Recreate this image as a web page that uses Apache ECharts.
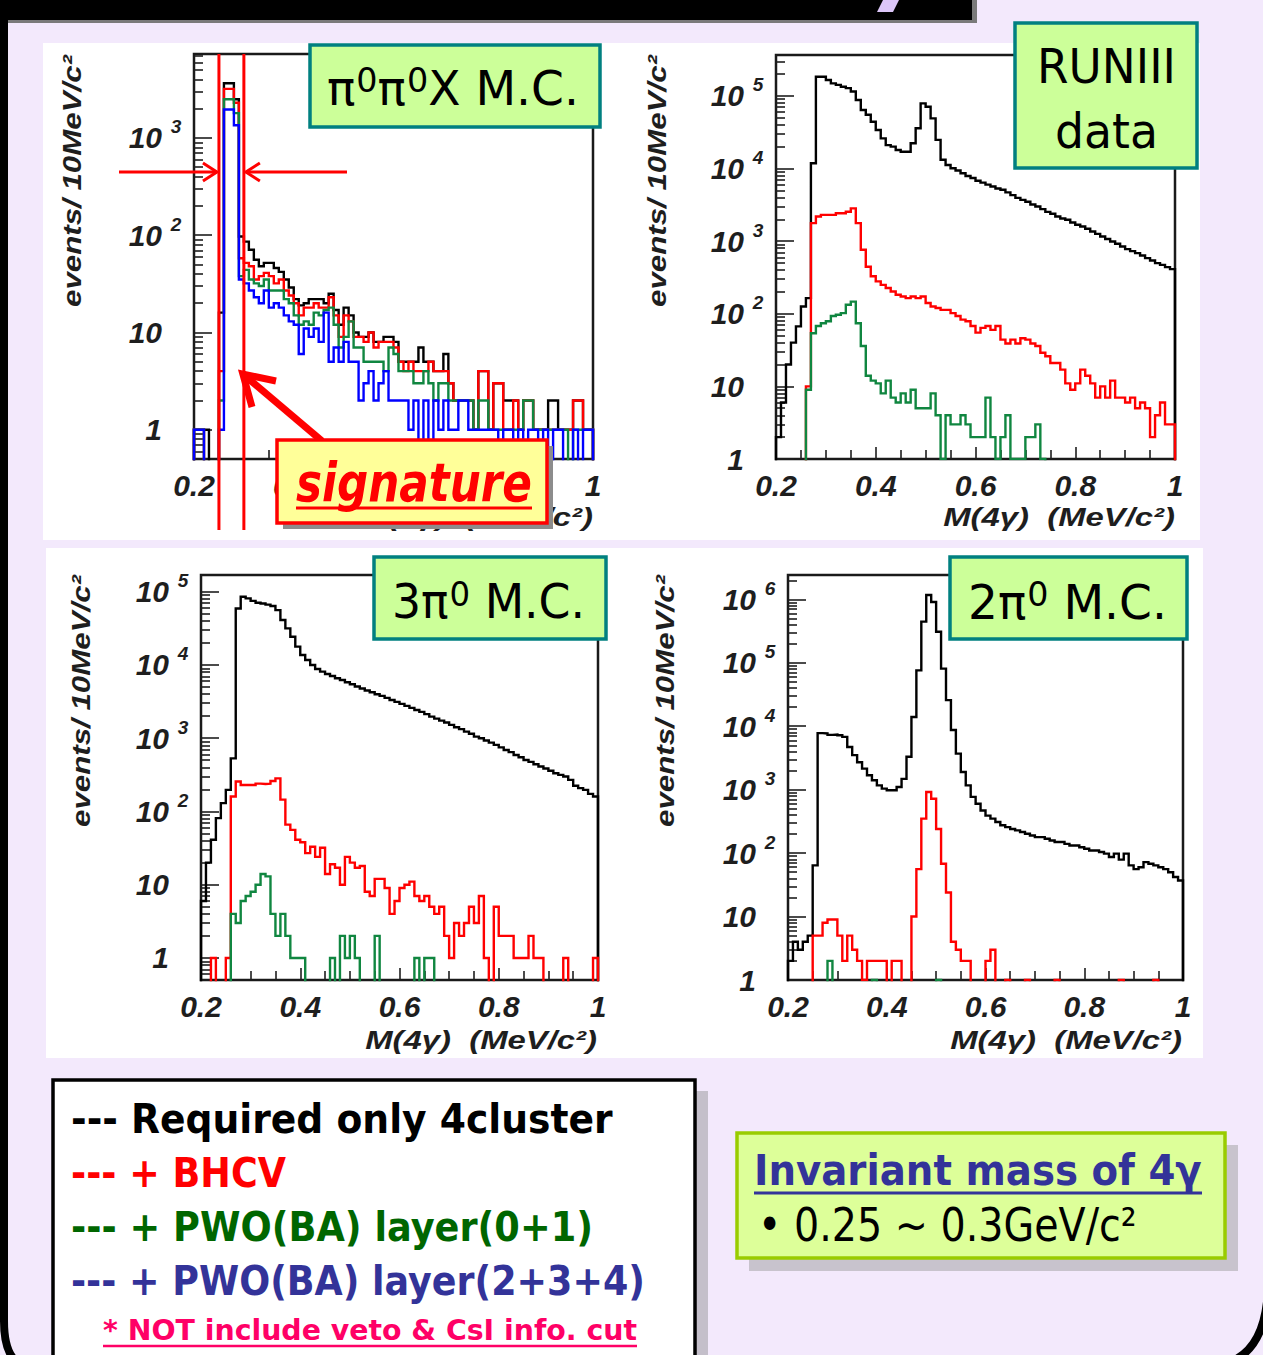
<!DOCTYPE html>
<html>
	<head>
		<meta charset="UTF-8">
		<title>M(4γ) spectra</title>
		<script type="text/javascript" src="https://cdn.jsdelivr.net/npm/echarts@6.0.0/dist/echarts.min.js"></script>
		<style>
			html, body { margin: 0; padding: 0; background: #f3e9fc; }
			#chart { width: 1263px; height: 1355px; }
		</style>
	</head>
	<body>
		<div id="chart"></div>
		<script type="text/javascript">
			// 80 bins of 10 MeV, 0.2 .. 1.0
			var binLow = 0.2, binWidth = 0.01;
			var xTickLabels = [0.2, 0.4, 0.6, 0.8, 1];
			var signatureWindow = [0.25, 0.30];

			// pi0 pi0 X  M.C.
			var p1Decades = [1, 10, 100, 1000];
			var p1Black = [1,1,1,0,0,16,3650,3650,2500,97, 86,71,56,48,52,52,46,42,35,29, 22,19,20,22,22,22,20,25,17,12, 18,15,10,9,9,10,8,8,9,9, 8,5,5,5,5,7,5,5,4,4, 6,3,2,2,2,2,1,4,4,1, 3,3,2,2,2,1,2,2,1,1, 1,2,2,1,1,1,2,2,1,1];
			var p1Red   = [1,1,0,0,0,4,3200,3200,2300,58, 52,48,35,38,41,38,32,35,27,24, 20,15,18,18,20,18,18,23,15,9, 15,13,9,9,8,10,7,8,8,8, 7,5,4,5,4,4,4,5,4,4, 4,3,2,2,2,2,1,4,4,1, 3,3,1,1,2,1,2,2,1,1, 1,1,1,1,1,1,2,2,1,1];
			var p1Green = [1,1,0,0,0,2,2500,2500,1800,38, 44,35,32,30,35,27,27,27,22,20, 15,12,13,12,16,15,17,18,12,7, 9,13,7,7,5,5,5,5,4,7, 6,4,4,4,3,3,4,3,2,3, 3,2,2,2,2,2,1,2,2,1, 1,1,1,1,1,1,2,2,1,1, 1,1,1,1,1,0,1,1,1,1];
			var p1Blue  = [1,1,0,0,0,1,1960,1960,1350,35, 32,27,23,20,27,18,20,18,15,13, 12,6,11,9,11,8,16,5,7,5, 8,5,5,2,3,4,2,3,4,2, 2,2,2,1,2,0,2,0,2,1, 2,1,1,2,2,1,1,1,1,1, 1,0,1,1,0,1,0,1,1,0, 1,0,1,1,0,0,1,0,1,1];

			// RUNIII data
			var p2Decades = [1, 10, 100, 1000, 10000, 100000];
			var p2Black = [2,6,20,40,67,126,164,11800,184000,184000, 166000,149000,142000,134000,128000,115000,88000,64000,55000,44000, 34000,26000,21000,20000,18000,17000,17000,22300,35900,79000, 71000,49000,24800,13200,11200,10100,9400,8600,7900,7400, 6800,6400,6000,5650,5300,5100,4700,4300,3950,3700, 3480,3200,3000,2760,2530,2380,2180,2050,1970,1810, 1680,1590,1480,1360,1260,1160,1070,990,920,845, 777,728,684,635,584,542,498,472,439,412];
			var p2Red   = [0,0,0,0,0,0,10,1770,2180,2300, 2300,2300,2420,2420,2540,2830,1770,760,445,328, 279,250,226,203,183,173,164,173,164,173, 141,126,120,113,113,102,93,83,79,68, 55,64,68,60,68,44,39,44,39,46, 44,39,36,29,26,21,21,17,11,9, 11,17,14,11,7,10,7,12,7,7, 6,7,5,6,5,2,4,6,3,3];
			var p2Green = [0,0,0,0,0,0,9,54,68,74, 79,93,97,102,133,147,74,36,14,12, 11,8,12,7,6,8,6,9,5,5, 5,8,4,1,4,3,3,4,3,2, 2,2,7,2,1,2,4,1,1,1, 2,2,3,1,0,0,0,0,0,0, 0,0,0,0,0,0,0,0,0,0, 0,0,0,0,0,0,0,0,0,0];

			// 3pi0 M.C.
			var p3Decades = [1, 10, 100, 1000, 10000, 100000];
			var p3Black = [6,20,41,81,130,197,530,59000,85500,81000, 75000,70700,69000,66500,63800,56000,41000,31600,24300,17800, 13700,11700,10000,8820,8110,7540,7080,6580,6240,5800, 5450,5070,4760,4470,4240,3980,3780,3550,3330,3130, 2940,2760,2590,2430,2290,2130,1970,1850,1740,1640, 1520,1410,1330,1230,1150,1050,1000,930,870,810, 750,690,645,590,550,505,475,440,410,385, 360,333,316,300,270,224,208,197,174,160];
			var p3Red   = [0,0,1,0,0,1,160,256,230,230, 230,240,237,240,260,283,145,66,56,41, 38,27,33,24,32,14,19,17,10,24, 20,17,18,8,7,12,12,9,4,6, 9,10,11,7,6,7,5,4,5,2, 1,3,2,3,5,3,7,1,0,5, 2,2,2,1,1,1,2,1,1,0, 0,0,0,1,0,0,0,0,0,1];
			var p3Green = [0,0,0,0,0,0,4,3,6,7, 8,10,14,13,4,2,4,2,1,1, 1,0,0,0,0,0,1,0,2,1, 2,1,0,0,0,2,0,0,0,0, 0,0,0,1,0,1,1,0,0,0, 0,0,0,0,0,0,0,0,0,0, 0,0,0,0,0,0,0,0,0,0, 0,0,0,0,0,0,0,0,0,0];

			// 2pi0 M.C.
			var p4Decades = [1, 10, 100, 1000, 10000, 100000, 1000000];
			var p4Black = [2,4,3,4,5,64,7800,7700,7300,7400, 7200,6800,4700,3500,2700,2150,1690,1410,1170,1040, 980,980,1100,1480,3300,14000,76000,446000,1170000,910000, 309000,81000,25800,8700,3700,1900,1170,770,600,470, 390,350,310,275,257,240,228,215,202,190, 179,179,168,158,150,150,140,132,132,124, 117,110,110,104,98,87,98,79,98,64, 56,60,72,68,64,60,56,50,42,37];
			var p4Red   = [0,0,0,0,0,5,5,8,9,9, 5,2,5,3,2,1,2,2,2,2, 0,2,2,0,0,10,56,350,920,720, 240,68,24,4,3,2,2,0,0,0, 2,3,0,0,1,0,0,0,1,0, 0,0,0,0,1,0,0,0,0,0, 0,0,0,0,0,0,0,1,0,0, 0,0,0,0,1,0,0,0,0,0];
			var p4Green = [0,0,0,0,0,0,0,0,2,0, 0,0,0,0,0,0,0,1,0,0, 0,0,0,0,0,0,0,0,0,0, 1,0,0,0,0,0,0,0,0,0, 0,0,0,0,0,0,0,0,0,0, 0,0,0,0,0,0,0,0,0,0, 0,0,0,0,0,0,0,0,0,0, 0,0,0,0,0,0,0,0,0,0];

			var BLACK = '#000000', RED = '#ff0000', GREEN = '#108640', BLUE = '#0000ff';
			var EMPTY = 1e-3; // empty bins fall below the axis and get clipped

			var panels = [
				{left: 194, top: 54, width: 399, height: 405, yMin: 0.5, yMax: 7300, decades: p1Decades,
				 hists: [[p1Black, BLACK], [p1Red, RED], [p1Green, GREEN], [p1Blue, BLUE]], yTitle: [72, 55], xTitle: [593, 517]},
				{left: 776, top: 55, width: 399, height: 404, yMin: 1, yMax: 366000, decades: p2Decades,
				 hists: [[p2Black, BLACK], [p2Red, RED], [p2Green, GREEN]], yTitle: [657, 55], xTitle: [1175, 517]},
				{left: 201, top: 575, width: 397, height: 405, yMin: 0.5, yMax: 169000, decades: p3Decades,
				 hists: [[p3Black, BLACK], [p3Red, RED], [p3Green, GREEN]], yTitle: [81, 575], xTitle: [597, 1040]},
				{left: 788, top: 575, width: 395, height: 405, yMin: 1, yMax: 2420000, decades: p4Decades,
				 hists: [[p4Black, BLACK], [p4Red, RED], [p4Green, GREEN]], yTitle: [665, 575], xTitle: [1182, 1040]}
			];

			function histData(vals) {
				var d = [[binLow, EMPTY]];
				for (var i = 0; i < vals.length; i++) {
					d.push([Math.round((binLow + i * binWidth) * 1000) / 1000, vals[i] > 0 ? vals[i] : EMPTY]);
				}
				d.push([Math.round((binLow + vals.length * binWidth) * 1000) / 1000, EMPTY]);
				return d;
			}

			function minorTicks(lo, hi) {
				var out = [];
				for (var e = Math.floor(Math.log10(lo)); e <= Math.ceil(Math.log10(hi)); e++) {
					for (var k = 2; k <= 9; k++) {
						var v = k * Math.pow(10, e);
						if (v >= lo && v <= hi) out.push(v);
					}
				}
				return out;
			}

			var axisFont = '"Liberation Sans", Arial, sans-serif';
			var tickStyle = {color: '#1e1e1e', width: 1.6};
			function yLabel(v) {
				var e = Math.round(Math.log10(v));
				if (e === 0) return '{b|1}{s| }';
				if (e === 1) return '{b|10}{s| }';
				return '{b|10}{s|' + e + '}';
			}

			var grids = [], xAxes = [], yAxes = [], series = [];
			panels.forEach(function(p, g) {
				grids.push({left: p.left, top: p.top, width: p.width, height: p.height, show: true,
					borderColor: '#1a1a1a', borderWidth: 2.5, backgroundColor: 'transparent', outerBoundsMode: 'none'});
				xAxes.push({type: 'value', gridIndex: g, min: 0.2, max: 1, interval: 0.2,
					axisLine: {show: false}, splitLine: {show: false},
					axisTick: {inside: true, length: 12, lineStyle: tickStyle},
					minorTick: {show: true, splitNumber: 4, length: 9, lineStyle: tickStyle},
					axisLabel: {margin: 11, fontSize: 30, fontFamily: axisFont, fontWeight: 'bold', fontStyle: 'italic', color: '#1e1e1e',
						customValues: xTickLabels,
						formatter: function(v) { return Math.abs(v - 1) < 1e-9 ? '1' : v.toFixed(1); }}
				});
				yAxes.push({type: 'log', logBase: 10, gridIndex: g, position: 'left', min: p.yMin, max: p.yMax,
					axisLine: {show: false}, splitLine: {show: false},
					axisTick: {inside: true, length: 18, customValues: p.decades, lineStyle: tickStyle},
					axisLabel: {margin: 12, customValues: p.decades, formatter: yLabel,
						rich: {
							b: {fontSize: 30, fontFamily: axisFont, fontWeight: 'bold', fontStyle: 'italic', color: '#1e1e1e'},
							s: {fontSize: 19, fontFamily: axisFont, fontWeight: 'bold', fontStyle: 'italic', color: '#1e1e1e',
								width: 12, align: 'left', padding: [0, 0, 22, 8]}
						}}
				});
				yAxes.push({type: 'log', logBase: 10, gridIndex: g, position: 'left', offset: 0, min: p.yMin, max: p.yMax,
					axisLine: {show: false}, splitLine: {show: false}, axisLabel: {show: false},
					axisTick: {inside: true, length: 9, customValues: minorTicks(p.yMin, p.yMax), lineStyle: tickStyle}
				});
				p.hists.forEach(function(h, j) {
					series.push({type: 'line', xAxisIndex: g, yAxisIndex: 2 * g, data: histData(h[0]), step: 'end',
						symbol: 'none', silent: true, clip: true, z: 2 + j,
						lineStyle: {color: h[1], width: 2.4, join: 'miter'}});
				});
			});

			var chart = echarts.init(document.getElementById('chart'), null, {renderer: 'svg', width: 1263, height: 1355});
			chart.setOption({animation: false, backgroundColor: '#f3e9fc', grid: grids, xAxis: xAxes, yAxis: yAxes, series: series});

			// text fitting: measure with canvas, squeeze horizontally to the box width
			var mctx = document.createElement('canvas').getContext('2d');
			function measure(str, font) { mctx.font = font; return mctx.measureText(str).width; }
			function fitText(str, font, left, cy, width, color, extra) {
				var el = {type: 'text', x: left, y: cy, scaleX: width / measure(str, font), z: 52, silent: true,
					style: {text: str, font: font, fill: color, textAlign: 'left', align: 'left', textVerticalAlign: 'middle', verticalAlign: 'middle'}};
				if (extra) for (var k in extra) el.style[k] = extra[k];
				return el;
			}
			// box labels with a raised "0": n = normal glyphs, u = superscript
			var labelFamily = '"DejaVu Sans"';
			var labelRich = {
				n: {fontSize: 48, fontFamily: labelFamily, color: '#000', lineHeight: 56},
				u: {fontSize: 34, fontFamily: labelFamily, color: '#000', lineHeight: 56, padding: [0, 0, 16, 1]}
			};
			function fitLabel(parts, left, cy, width) {
				var w = 0, txt = '';
				parts.forEach(function(pt) {
					var st = labelRich[pt[1]];
					w += measure(pt[0], st.fontSize + 'px ' + st.fontFamily) + (pt[1] === 'u' ? 1 : 0);
					txt += '{' + pt[1] + '|' + pt[0] + '}';
				});
				return {type: 'text', x: left, y: cy, scaleX: width / w, z: 52, silent: true,
					style: {text: txt, rich: labelRich, textAlign: 'left', align: 'left', textVerticalAlign: 'middle', verticalAlign: 'middle'}};
			}
			function rect(x, y, w, h, fill, stroke, lw, z) {
				return {type: 'rect', z: z, silent: true, shape: {x: x, y: y, width: w, height: h},
					style: {fill: fill, stroke: stroke || null, lineWidth: lw || 0}};
			}
			function seg(x1, y1, x2, y2, color, lw, z) {
				return {type: 'line', z: z || 52, silent: true, shape: {x1: x1, y1: y1, x2: x2, y2: y2}, style: {stroke: color, lineWidth: lw}};
			}
			function poly(points, color, lw, z) {
				return {type: 'polyline', z: z || 45, silent: true, shape: {points: points}, style: {stroke: color, lineWidth: lw, fill: null, lineJoin: 'miter'}};
			}
			function curve(x1, y1, cx, cy, x2, y2, color, lw, z) {
				return {type: 'bezierCurve', z: z, silent: true, shape: {x1: x1, y1: y1, cpx1: cx, cpy1: cy, x2: x2, y2: y2},
					style: {stroke: color, lineWidth: lw, fill: null}};
			}

			var gr = [];
			// slide background
			gr.push(rect(43, 43, 1157, 497, '#ffffff', null, 0, -100));
			gr.push(rect(46, 548, 1157, 510, '#ffffff', null, 0, -100));
			gr.push(rect(0, 0, 977, 23, '#7a7a7a', null, 0, -90));
			gr.push(rect(0, 0, 972, 20, '#000000', null, 0, -89));
			gr.push({type: 'polygon', z: -88, silent: true, shape: {points: [[883, 0], [899, 0], [893, 12], [877, 12]]}, style: {fill: '#dcc6f8'}});
			gr.push(seg(4, 20, 4, 1322, '#000', 8, -90));
			gr.push(curve(4, 1321, 4, 1352, 17, 1362, '#000', 8, -90));
			gr.push(curve(1268, 1288, 1266, 1348, 1230, 1362, '#000', 8, -90));

			// axis titles
			var yTitleFont = 'italic bold 25px "Liberation Sans"';
			var xTitleFont = 'italic bold 25px "Liberation Sans"';
			var yTitle = 'events/ 10MeV/c²', xTitle = 'M(4γ)  (MeV/c²)';
			panels.forEach(function(p) {
				gr.push({type: 'text', x: p.yTitle[0], y: p.yTitle[1], rotation: Math.PI / 2, scaleX: 252 / measure(yTitle, yTitleFont), z: 5, silent: true,
					style: {text: yTitle, font: yTitleFont, fill: '#1e1e1e', textAlign: 'right', align: 'right', textVerticalAlign: 'middle', verticalAlign: 'middle'}});
				gr.push({type: 'text', x: p.xTitle[0], y: p.xTitle[1], scaleX: 232 / measure(xTitle, xTitleFont), z: 5, silent: true,
					style: {text: xTitle, font: xTitleFont, fill: '#1e1e1e', textAlign: 'right', align: 'right', textVerticalAlign: 'middle', verticalAlign: 'middle'}});
			});

			// signature window markers on the first panel
			var sLo = chart.convertToPixel({xAxisIndex: 0, yAxisIndex: 0}, [signatureWindow[0], panels[0].yMax]);
			var sHi = chart.convertToPixel({xAxisIndex: 0, yAxisIndex: 0}, [signatureWindow[1], panels[0].yMax]);
			gr.push(seg(sLo[0], sLo[1], sLo[0], 530, RED, 3, 45));
			gr.push(seg(sHi[0], sHi[1], sHi[0], 530, RED, 3, 45));
			gr.push(seg(119, 172, sLo[0] - 2, 172, RED, 3, 45));
			gr.push(poly([[sLo[0] - 16, 163], [sLo[0] - 2, 172], [sLo[0] - 16, 181]], RED, 3));
			gr.push(seg(347, 172, sHi[0] + 2, 172, RED, 3, 45));
			gr.push(poly([[sHi[0] + 16, 163], [sHi[0] + 2, 172], [sHi[0] + 16, 181]], RED, 3));
			gr.push(seg(322, 441, sHi[0] - 1, 374, RED, 7, 45));
			gr.push(poly([[276, 381], [sHi[0] - 1, 374], [252, 407]], RED, 7));

			// "signature" label
			gr.push(rect(283, 446, 270, 83, '#8c8c8c', null, 0, 48));
			gr.push(rect(277, 440, 270, 83, '#ffff99', RED, 3.5, 50));
			gr.push(fitText('signature', 'italic bold 54px "DejaVu Sans"', 296, 482, 236, RED,
				{shadowColor: 'rgba(90,0,0,0.65)', shadowOffsetX: 2, shadowOffsetY: 2, shadowBlur: 1}));
			gr.push(seg(296, 508, 532, 508, RED, 3));

			// sample boxes
			gr.push(rect(310, 45, 290, 82, '#ccff99', '#008080', 3.5, 50));
			gr.push(fitLabel([['π', 'n'], ['0', 'u'], ['π', 'n'], ['0', 'u'], ['X M.C.', 'n']], 327, 88, 252));
			gr.push(rect(1015, 23, 182, 145, '#ccff99', '#008080', 3.5, 50));
			gr.push(fitLabel([['RUNIII', 'n']], 1037, 67, 139));
			gr.push(fitLabel([['data', 'n']], 1055, 131, 103));
			gr.push(rect(374, 557, 232, 82, '#ccff99', '#008080', 3.5, 50));
			gr.push(fitLabel([['3π', 'n'], ['0', 'u'], [' M.C.', 'n']], 392, 602, 193));
			gr.push(rect(950, 557, 237, 82, '#ccff99', '#008080', 3.5, 50));
			gr.push(fitLabel([['2π', 'n'], ['0', 'u'], [' M.C.', 'n']], 968, 602, 199));

			// legend of the cuts
			var legFont = 'bold 41px "DejaVu Sans"';
			gr.push(rect(695, 1091, 13, 280, '#c4bfca', null, 0, 48));
			gr.push(rect(53, 1080, 642, 300, '#ffffff', '#000', 3.5, 50));
			gr.push(fitText('--- Required only 4cluster', legFont, 71, 1118, 542, '#000000'));
			gr.push(fitText('--- + BHCV', legFont, 71, 1173, 215, '#ff0000'));
			gr.push(fitText('--- + PWO(BA) layer(0+1)', legFont, 71, 1227, 522, '#006600'));
			gr.push(fitText('--- + PWO(BA) layer(2+3+4)', legFont, 71, 1281, 574, '#333399'));
			gr.push(fitText('* NOT include veto & CsI info. cut', 'bold 29px "DejaVu Sans"', 103, 1330, 534, '#ff0066'));
			gr.push(seg(103, 1346, 637, 1346, '#ff0066', 2.5));

			// mass window note
			gr.push(rect(749, 1145, 489, 126, '#c8c3cd', null, 0, 48));
			gr.push(rect(737, 1133, 488, 125, '#ddff99', '#99cc00', 3.5, 50));
			gr.push(fitText('Invariant mass of 4γ', 'bold 43px "DejaVu Sans"', 754, 1170, 448, '#333399'));
			gr.push(seg(754, 1193, 1202, 1193, '#333399', 3));
			gr.push(fitText('• 0.25 ~ 0.3GeV/c²', '47px "DejaVu Sans"', 758, 1225, 379, '#000000'));

			chart.setOption({graphic: {elements: gr}});
		</script>
	</body>
</html>
